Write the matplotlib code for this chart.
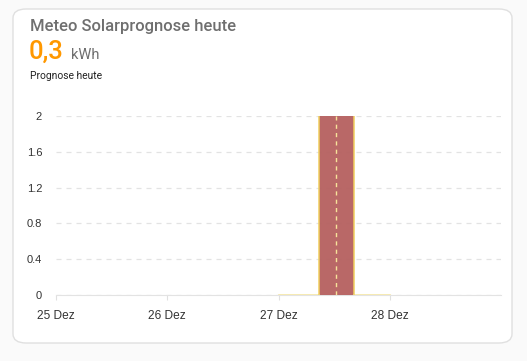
import matplotlib
matplotlib.use("Agg")
import matplotlib.pyplot as plt
from matplotlib.patches import FancyBboxPatch
import datetime as dt

plt.rcParams['font.family'] = ['Roboto', 'DejaVu Sans']

# forecast for 27 Dez, step values (hour of day -> kWh)
day = dt.datetime(2024, 12, 27)
step_hours = [0, 8.8, 16.25, 24]
step_values = [0, 2, 0, 0]
now_hour = 12.3

days = [dt.datetime(2024, 12, d) for d in (25, 26, 27, 28)]
day_labels = ["25 Dez", "26 Dez", "27 Dez", "28 Dez"]
yticks = [0, 0.4, 0.8, 1.2, 1.6, 2]
ytick_labels = ["0", "0.4", "0.8", "1.2", "1.6", "2"]

W, H = 527, 361
fig = plt.figure(figsize=(W / 100, H / 100), dpi=100)
fig.patch.set_facecolor("#fafafa")

# card background
card = FancyBboxPatch((13 / W, 1 - 343 / H), 499 / W, 334 / H,
                      boxstyle="round,pad=0,rounding_size=0.025",
                      transform=fig.transFigure, facecolor="white",
                      edgecolor="#e0e0e0", linewidth=1, zorder=-10)
fig.patches.append(card)

fig.text(30 / W, 1 - 27 / H, "Meteo Solarprognose heute", fontsize=12,
         color="#6f6f6f", va="center", ha="left", weight="medium")
fig.text(29 / W, 1 - 52 / H, "0,3", fontsize=18.5, color="#ff9800",
         va="center", ha="left", weight="medium")
fig.text(71 / W, 1 - 55 / H, "kWh", fontsize=10.5, color="#6f6f6f",
         va="center", ha="left")
fig.text(30 / W, 1 - 76 / H, "Prognose heute", fontsize=7.4, color="#212121",
         va="center", ha="left")

ax = fig.add_axes([56 / W, 1 - 295 / H, 445 / W, 179 / H])
ax.set_facecolor("none")
ax.set_zorder(1)

times = [day + dt.timedelta(hours=h) for h in step_hours]
ax.fill_between(times, step_values, step="post", color="#b5605f",
                alpha=0.95, linewidth=0, zorder=3)
# outline: vertical edges and zero-level segments, no top edge
edge = "#f0cf5e"
for i in range(len(times) - 1):
    if step_values[i] == 0:
        ax.plot([times[i], times[i + 1]], [0, 0], color="#f5e7a6",
                linewidth=1.2, zorder=4)
    if i > 0 and step_values[i] != step_values[i - 1]:
        ax.plot([times[i], times[i]], [step_values[i - 1], step_values[i]],
                color=edge, linewidth=1.1, zorder=4)
now = day + dt.timedelta(hours=now_hour)
ax.plot([now, now], [0, 2], color="#f7e39a", linewidth=1,
        linestyle=(0, (3, 3)), zorder=5)

ax.set_xlim(dt.datetime(2024, 12, 25), dt.datetime(2024, 12, 29))
ax.set_ylim(0, 2)
ax.set_xticks(days)
ax.set_xticklabels(day_labels, family=["Liberation Sans", "DejaVu Sans"])
ax.set_yticks(yticks)
ax.set_yticklabels(ytick_labels, family=["Liberation Sans", "DejaVu Sans"])

ax.grid(axis="y", color="#e3e3e3", linestyle=(0, (4, 4)), linewidth=0.9)
ax.set_axisbelow(True)
for s in ("top", "right", "left"):
    ax.spines[s].set_visible(False)
ax.spines["bottom"].set_color("#e3e3e3")
ax.tick_params(axis="y", length=0, pad=10, labelsize=8, labelcolor="#333333")
ax.tick_params(axis="x", length=3.5, color="#e0e0e0", pad=7.5, labelsize=8.6,
               labelcolor="#333333")

fig.savefig("out.png", dpi=100)
